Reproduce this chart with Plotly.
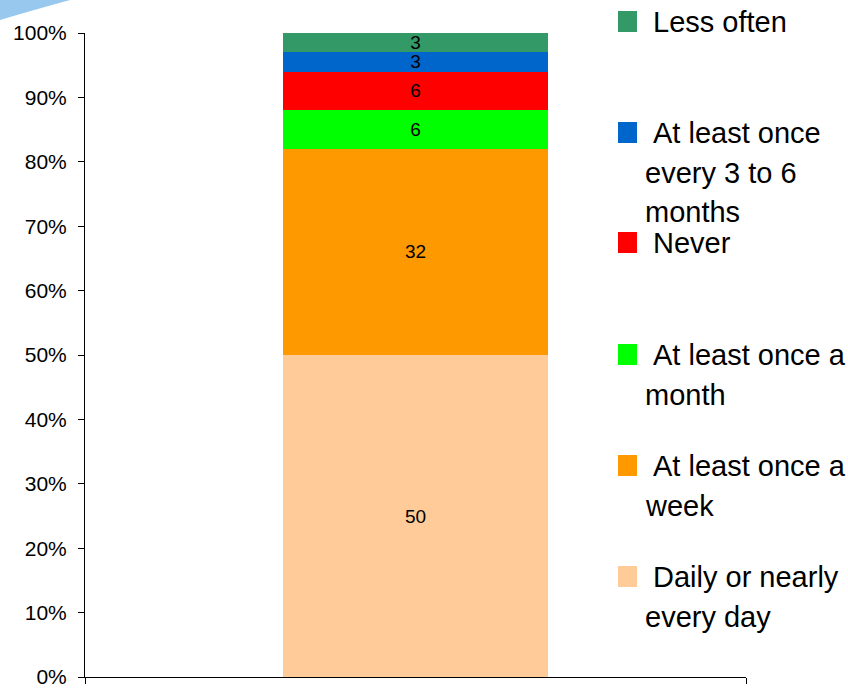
import plotly.graph_objects as go

# ---- data ----
category = ["All"]
series_names = [
    "Daily or nearly every day",
    "At least once a week",
    "At least once a month",
    "Never",
    "At least once every 3 to 6 months",
    "Less often",
]
series_values = [50, 32, 6, 6, 3, 3]
series_colors = ["#FFCC99", "#FF9900", "#00FF00", "#FF0000", "#0066CC", "#339966"]
legend_lines = {
    "Less often": ["Less often"],
    "At least once every 3 to 6 months": ["At least once", "every 3 to 6", "months"],
    "Never": ["Never"],
    "At least once a month": ["At least once a", "month"],
    "At least once a week": ["At least once a", "week"],
    "Daily or nearly every day": ["Daily or nearly", "every day"],
}
legend_order = ["Less often", "At least once every 3 to 6 months", "Never",
                "At least once a month", "At least once a week", "Daily or nearly every day"]
y_ticks = [0, 10, 20, 30, 40, 50, 60, 70, 80, 90, 100]

W, H = 848, 688
L, R, T, B = 85, 102, 33, 11
PW, PH = W - L - R, H - T - B

def px2x(px):
    return (px - L) / PW

def px2y(py):
    return (H - B - py) / PH

FONT = "Liberation Sans, Arial, sans-serif"

fig = go.Figure()
for name, val, col in zip(series_names, series_values, series_colors):
    fig.add_trace(go.Bar(
        x=category, y=[val], name=name, marker=dict(color=col, line=dict(width=0)),
        width=0.4, text=[str(val)], textposition="inside", insidetextanchor="middle",
        textangle=0, constraintext="none",
        textfont=dict(family=FONT, size=19, color="black"),
        showlegend=False, hoverinfo="skip",
    ))

shapes = []
annotations = []
# legend: squares and text
first_line_y = [22, 133, 243, 355, 466, 577]
for name, cy in zip(legend_order, first_line_y):
    col = series_colors[series_names.index(name)]
    shapes.append(dict(type="rect", xref="paper", yref="paper",
                       x0=px2x(618), x1=px2x(637), y0=px2y(cy + 10), y1=px2y(cy - 11),
                       fillcolor=col, line=dict(width=0)))
    lines = legend_lines[name]
    for i, ln in enumerate(lines):
        xpx = 652 if i == 0 else 644
        annotations.append(dict(xref="paper", yref="paper", x=px2x(xpx), y=px2y(cy + i * 39.5),
                                xanchor="left", yanchor="middle", text=ln, showarrow=False,
                                font=dict(family=FONT, size=29, color="black"),
                                borderpad=0))

# decorative swoosh top-left
p = lambda a, b: f"{px2x(a)},{px2y(b)}"
shapes.append(dict(type="path", xref="paper", yref="paper",
                   path=f"M {p(0,0)} L {p(0,20)} Q {p(30,11)} {p(70,0)} Z",
                   fillcolor="rgba(135,190,235,0.85)", line=dict(width=0), layer="below"))

fig.update_layout(
    width=W, height=H, margin=dict(l=L, r=R, t=T, b=B, autoexpand=False),
    barmode="stack", bargap=0.6,
    plot_bgcolor="white", paper_bgcolor="white",
    font=dict(family=FONT, color="black"),
    shapes=shapes, annotations=annotations,
    xaxis=dict(showticklabels=False, showgrid=False, zeroline=False, automargin=False,
               showline=True, linecolor="black", linewidth=1,
               ticks="outside", tickson="boundaries", ticklen=6, tickcolor="black",
               range=[-0.5, 0.5]),
    yaxis=dict(range=[0, 100], tickvals=y_ticks, ticktext=[f"{v}%" for v in y_ticks],
               showgrid=False, zeroline=False, automargin=False,
               showline=True, linecolor="black", linewidth=1,
               ticks="outside", ticklen=6, tickcolor="black", ticklabelstandoff=7,
               ticklabeloverflow="allow",
               tickfont=dict(family=FONT, size=21, color="black")),
)

fig.write_html("out.html", config={"displayModeBar": False},
               post_script="document.body.style.margin='0';document.body.style.overflow='hidden';")
